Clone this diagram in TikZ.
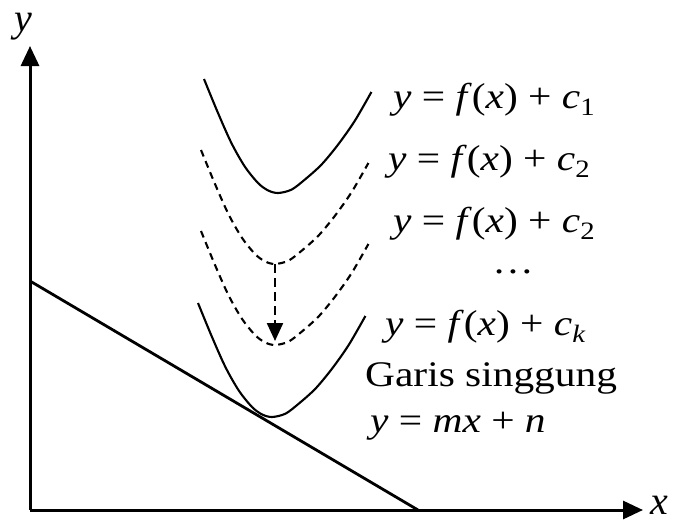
\documentclass[tikz,border=0pt]{standalone}
\usepackage{fontspec}
\setmainfont{Liberation Serif}
\usetikzlibrary{arrows.meta}
\newcommand{\wid}[1]{\scalebox{1.15}[1]{#1}}
\newcommand{\mysub}[1]{\raisebox{-0.22em}{\fontsize{25}{25}\selectfont #1}}
\newcommand{\eqf}[1]{\wid{\textit{y} = \textit{f}(\textit{x}) + \textit{c}#1}}
\tikzset{
  axis/.style={line width=3pt, -{Triangle[length=20pt,width=18pt]}},
  tline/.style={line width=2.8pt},
  curve/.style={line width=2.1pt},
  dcurve/.style={line width=2.1pt, dash pattern=on 7pt off 5pt},
  lbl/.style={anchor=base west, inner sep=0pt, font=\fontsize{36}{40}\selectfont},
  axlbl/.style={inner sep=0pt, font=\fontsize{40}{44}\selectfont\itshape},
}
\begin{document}
\begin{tikzpicture}[x=1pt,y=-1pt]
\useasboundingbox (0,0) rectangle (675,522);
% axes
\coordinate (O) at (30,510);
\coordinate (Ytip) at (30,46);
\coordinate (Xtip) at (643,510);
\draw[axis] (O) -- (Ytip);
\draw[axis] (O) -- (Xtip);
\node[axlbl] (ylab) at (23,27) {y};
\node[axlbl] (xlab) at (659,505) {x};
% tangent line
\coordinate (L1) at (30,281);
\coordinate (L2) at (418,510);
\draw[tline] (L1) -- (L2);
% curves
\def\parab{(-74,-114) (-60,-80) (-46.6,-50) (-33.3,-26.6) (-20,-10) (-10,-2.6) (0,0) (13.4,-3.3) (26.7,-13.3) (43.4,-28.3) (60,-48.3) (76.7,-72) (93.4,-101)}
\coordinate (V1) at (278,193);
\coordinate (V2) at (275,264);
\coordinate (V3) at (275,345);
\coordinate (Vk) at (272,417);
\draw[curve, shift={(V1)}] plot[smooth] coordinates {\parab};
\draw[dcurve, shift={(V2)}] plot[smooth] coordinates {\parab};
\draw[dcurve, shift={(V3)}] plot[smooth] coordinates {\parab};
\draw[curve, shift={(Vk)}] plot[smooth] coordinates {\parab};
% arrow
\coordinate (A2) at (275,341);
\draw[line width=2.3pt, dash pattern=on 9pt off 5pt, -{Triangle[length=18pt,width=16pt]}] (V2) -- (A2);
% labels
\node[lbl] (e1) at (393,108) {\eqf{\mysub{1}}};
\node[lbl] (e2) at (388,170) {\eqf{\mysub{2}}};
\node[lbl] (e3) at (393,232) {\eqf{\mysub{2}}};
\node[lbl, anchor=base] (dots) at (513,273) {\wid{\dots}};
\node[lbl] (ek) at (385,335) {\eqf{\mysub{\textit{k}}}};
\node[lbl] (gs) at (365,386) {\wid{Garis singgung}};
\node[lbl] (tl) at (370,432) {\wid{\textit{y} = \textit{mx} + \textit{n}}};
\end{tikzpicture}
\end{document}
